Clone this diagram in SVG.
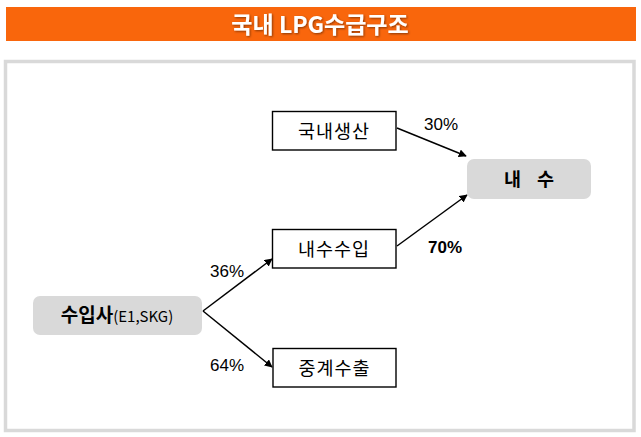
<svg xmlns="http://www.w3.org/2000/svg" width="641" height="437" viewBox="0 0 641 437">
<defs>
<style>
.box{fill:#fff;stroke:#000;stroke-width:1.4}
.gbox{fill:#d9d9d9;stroke:none}
.kt{font-family:"Noto Sans CJK KR","Liberation Sans",sans-serif;font-size:18.5px;fill:#000;text-anchor:middle}
.pct{font-family:"Liberation Sans",Arial,sans-serif;font-size:17px;fill:#000;text-anchor:middle}
.conn{stroke:#000;stroke-width:1.5;fill:none;marker-end:url(#arr)}
.title{font-family:"Noto Sans CJK KR","Liberation Sans",sans-serif;font-size:23px;font-weight:bold;fill:#fff;text-anchor:middle}
</style>
<marker id="arr" viewBox="0 0 10 10" refX="9" refY="5" markerWidth="8" markerHeight="8" markerUnits="userSpaceOnUse" orient="auto">
<path d="M0,0 L10,5 L0,10 z" fill="#000"/>
</marker>
<filter id="sh" x="-10%" y="-30%" width="120%" height="160%">
<feDropShadow dx="1" dy="1" stdDeviation="0.8" flood-color="#000" flood-opacity="0.45"/>
</filter>
</defs>
<rect x="6" y="7" width="630" height="34" fill="#f9660c"/>
<text class="title" x="320" y="33" filter="url(#sh)">국내 LPG수급구조</text>
<rect x="5.5" y="61.5" width="628.5" height="369" fill="#fff" stroke="#d9d9d9" stroke-width="3.5"/>
<g id="connectors">
<line class="conn" x1="203" y1="311" x2="272" y2="259"/>
<line class="conn" x1="203" y1="311" x2="272" y2="367"/>
<line class="conn" x1="397" y1="128" x2="466" y2="156"/>
<line class="conn" x1="397" y1="246" x2="467" y2="195"/>
</g>
<g id="n_domestic_prod">
<rect class="box" x="272.5" y="111.5" width="123.5" height="38.5"/>
<text class="kt" x="334" y="137.5" letter-spacing="1">국내생산</text>
</g>
<g id="n_demand">
<rect class="gbox" x="467" y="159" width="124" height="40" rx="7"/>
<text class="kt" y="185.5" font-weight="bold"><tspan x="512.5">내</tspan><tspan x="545.5">수</tspan></text>
</g>
<g id="n_domestic_import">
<rect class="box" x="272.5" y="229.5" width="123.5" height="38.5"/>
<text class="kt" x="334" y="255.5" letter-spacing="1">내수수입</text>
</g>
<g id="n_importer">
<rect class="gbox" x="33" y="296" width="169" height="39" rx="7"/>
<text class="kt" x="117" y="322"><tspan font-size="19" font-weight="bold">수입사</tspan><tspan font-size="15">(E1,SKG)</tspan></text>
</g>
<g id="n_reexport">
<rect class="box" x="273" y="348.5" width="123" height="38.5"/>
<text class="kt" x="334.5" y="374.5" letter-spacing="1">중계수출</text>
</g>
<g id="labels">
<text class="pct" x="227" y="277">36%</text>
<text class="pct" x="227" y="371">64%</text>
<text class="pct" x="441" y="130">30%</text>
<text class="pct" x="445" y="253" font-weight="bold">70%</text>
</g>
</svg>
